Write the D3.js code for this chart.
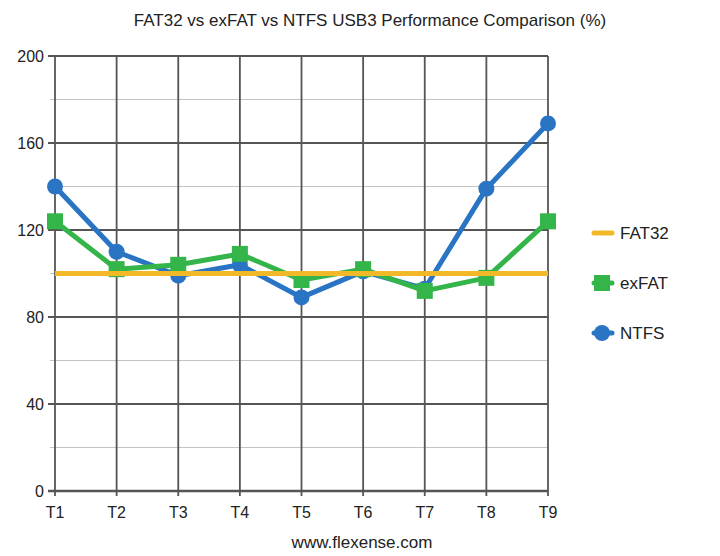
<!DOCTYPE html>
<html>
<head>
<meta charset="utf-8">
<script src="https://cdn.jsdelivr.net/npm/d3@7"></script>
<style>
  body { margin: 0; background: #fff; }
  text { font-family: "Liberation Sans", Arial, sans-serif; fill: #222; }
</style>
</head>
<body>
<svg id="plot" width="720" height="556"></svg>
<script>
const tests = ["T1", "T2", "T3", "T4", "T5", "T6", "T7", "T8", "T9"];
const fat32 = [100, 100, 100, 100, 100, 100, 100, 100, 100];
const exfat = [124, 102, 104, 109, 97, 102, 92, 98, 124];
const ntfs = [140, 110, 99, 104, 89, 101, 93, 139, 169];
const yTicks = [0, 40, 80, 120, 160, 200];
const yMinor = [20, 60, 100, 140, 180];

const svg = d3.select("#plot");

const x = d3.scalePoint()
  .domain(tests)
  .range([55, 548]);

const y = d3.scaleLinear()
  .domain([0, 200])
  .range([491, 56]);

// minor gridlines
svg.append("g")
  .selectAll("line")
  .data(yMinor)
  .enter().append("line")
    .attr("x1", 50).attr("x2", 548)
    .attr("y1", d => y(d)).attr("y2", d => y(d))
    .attr("stroke", "#c4c4c4")
    .attr("stroke-width", 1.2);

// major gridlines
svg.append("g")
  .selectAll("line")
  .data(yTicks)
  .enter().append("line")
    .attr("x1", 48).attr("x2", 548)
    .attr("y1", d => y(d)).attr("y2", d => y(d))
    .attr("stroke", "#555")
    .attr("stroke-width", d => d === 0 ? 2.5 : 1.8);

// vertical gridlines
svg.append("g")
  .selectAll("line")
  .data(tests)
  .enter().append("line")
    .attr("x1", d => x(d)).attr("x2", d => x(d))
    .attr("y1", y(200)).attr("y2", y(0) + 5)
    .attr("stroke", "#555")
    .attr("stroke-width", 1.8);

// Y labels
svg.append("g")
  .selectAll("text")
  .data(yTicks)
  .enter().append("text")
    .attr("x", 44)
    .attr("y", d => y(d))
    .attr("dy", "0.35em")
    .style("text-anchor", "end")
    .style("font-size", "16px")
    .text(d => d);

// X labels
svg.append("g")
  .selectAll("text")
  .data(tests)
  .enter().append("text")
    .attr("x", d => x(d))
    .attr("y", 518)
    .style("text-anchor", "middle")
    .style("font-size", "16px")
    .text(d => d);

// title
svg.append("text")
  .attr("x", 370)
  .attr("y", 26)
  .style("text-anchor", "middle")
  .style("font-size", "17px")
  .text("FAT32 vs exFAT vs NTFS USB3 Performance Comparison (%)");

svg.append("text")
  .attr("x", 362)
  .attr("y", 548)
  .style("text-anchor", "middle")
  .style("font-size", "17px")
  .text("www.flexense.com");

const line = d3.line()
  .x((d, i) => x(tests[i]))
  .y(d => y(d));

const series = [
  { name: "FAT32", values: fat32, color: "#f1b927", marker: "none" },
  { name: "exFAT", values: exfat, color: "#33b549", marker: "square" },
  { name: "NTFS", values: ntfs, color: "#2a74c4", marker: "circle" }
];

// draw in order NTFS, exFAT, FAT32 (FAT32 on top)
[series[2], series[1], series[0]].forEach(s => {
  const g = svg.append("g");
  g.append("path")
    .datum(s.values)
    .attr("fill", "none")
    .attr("stroke", s.color)
    .attr("stroke-width", 5)
    .attr("stroke-linejoin", "round")
    .attr("d", line);
  if (s.marker === "circle") {
    g.selectAll("circle")
      .data(s.values)
      .enter().append("circle")
        .attr("cx", (d, i) => x(tests[i]))
        .attr("cy", d => y(d))
        .attr("r", 8)
        .attr("fill", s.color);
  } else if (s.marker === "square") {
    g.selectAll("rect")
      .data(s.values)
      .enter().append("rect")
        .attr("x", (d, i) => x(tests[i]) - 8)
        .attr("y", d => y(d) - 8)
        .attr("width", 16)
        .attr("height", 16)
        .attr("fill", s.color);
  }
});

// legend
const legend = svg.selectAll(".legend")
  .data(series)
  .enter().append("g")
    .attr("class", "legend")
    .attr("transform", (d, i) => "translate(0," + (233 + i * 50) + ")");

legend.append("line")
  .attr("x1", 594).attr("x2", 612)
  .attr("y1", 0).attr("y2", 0)
  .attr("stroke", d => d.color)
  .attr("stroke-width", 5)
  .attr("stroke-linecap", "round");

legend.filter(d => d.marker === "square").append("rect")
  .attr("x", 594).attr("y", -8)
  .attr("width", 16).attr("height", 16)
  .attr("fill", d => d.color);

legend.filter(d => d.marker === "circle").append("circle")
  .attr("cx", 602).attr("cy", 0).attr("r", 8)
  .attr("fill", d => d.color);

legend.append("text")
  .attr("x", 620)
  .attr("y", 0)
  .attr("dy", "0.35em")
  .style("font-size", "17px")
  .text(d => d.name);
</script>
</body>
</html>
